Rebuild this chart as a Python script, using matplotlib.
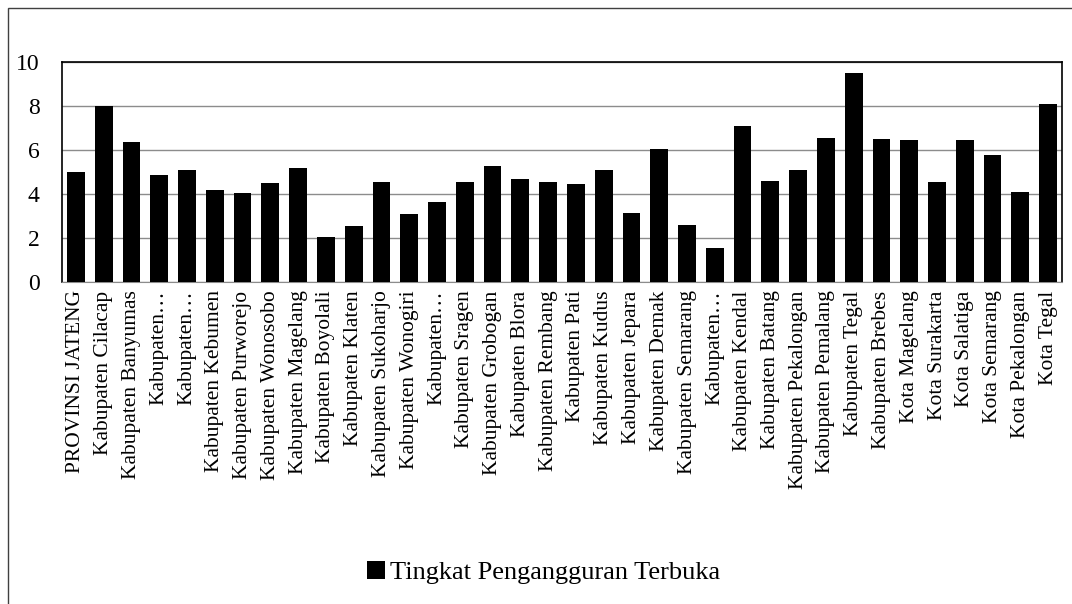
import matplotlib.pyplot as plt
from matplotlib.patches import Rectangle

# Data
wilayah = ['PROVINSI JATENG', 'Kabupaten Cilacap', 'Kabupaten Banyumas', 'Kabupaten…',
           'Kabupaten…', 'Kabupaten Kebumen', 'Kabupaten Purworejo', 'Kabupaten Wonosobo',
           'Kabupaten Magelang', 'Kabupaten Boyolali', 'Kabupaten Klaten', 'Kabupaten Sukoharjo',
           'Kabupaten Wonogiri', 'Kabupaten…', 'Kabupaten Sragen', 'Kabupaten Grobogan',
           'Kabupaten Blora', 'Kabupaten Rembang', 'Kabupaten Pati', 'Kabupaten Kudus',
           'Kabupaten Jepara', 'Kabupaten Demak', 'Kabupaten Semarang', 'Kabupaten…',
           'Kabupaten Kendal', 'Kabupaten Batang', 'Kabupaten Pekalongan', 'Kabupaten Pemalang',
           'Kabupaten Tegal', 'Kabupaten Brebes', 'Kota Magelang', 'Kota Surakarta',
           'Kota Salatiga', 'Kota Semarang', 'Kota Pekalongan', 'Kota Tegal']
tpt = [4.99, 8.03, 6.39, 4.86, 5.08, 4.17, 4.05, 4.50, 5.18, 2.06, 2.53, 4.53,
       3.10, 3.62, 4.53, 5.26, 4.70, 4.53, 4.45, 5.08, 3.15, 6.05, 2.59, 1.53,
       7.09, 4.58, 5.12, 6.56, 9.53, 6.50, 6.44, 4.56, 6.44, 5.79, 4.10, 8.08]
seri = 'Tingkat Pengangguran Terbuka'

plt.rcParams['font.family'] = ['Liberation Serif', 'DejaVu Serif']

fig = plt.figure(figsize=(10.72, 6.04), dpi=100)
ax = fig.add_axes([0.0578, 0.533, 0.9329, 0.364])

x = range(len(wilayah))
ax.bar(x, tpt, width=0.64, color='black', label=seri, zorder=3)

ax.set_xlim(-0.5, len(wilayah) - 0.5)
ax.set_ylim(0, 10)
ax.set_yticks([0, 2, 4, 6, 8, 10])
ax.yaxis.grid(True, color='#8c8c8c', linewidth=1.0, zorder=0)
ax.set_xticks(list(x))
ax.set_xticklabels(wilayah, rotation=90, fontsize=15.5)
ax.tick_params(axis='y', labelsize=17, length=0, pad=16)
ax.tick_params(axis='x', length=0, pad=6)

for s in ['top', 'right', 'left']:
    ax.spines[s].set_color('black')
    ax.spines[s].set_linewidth(1.2)
ax.spines['bottom'].set_color('#8c8c8c')

# Legenda di bawah
fig.legend(loc='center', bbox_to_anchor=(0.507, 0.052), frameon=False,
           fontsize=19, handlelength=0.7, handleheight=0.7, handletextpad=0.2)

# Bingkai luar
fig.patches.append(Rectangle((0.0075, -0.02), 1.2, 0.987 + 0.02, transform=fig.transFigure,
                             fill=False, edgecolor='#404040', linewidth=1.0))

plt.savefig('out.png')
